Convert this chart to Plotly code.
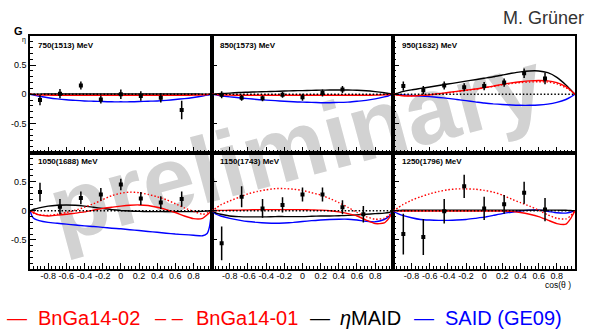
import plotly.graph_objects as go
from plotly.subplots import make_subplots

# ---------------- data ----------------
PANEL_TITLES = ["750(1513) MeV", "850(1573) MeV", "950(1632) MeV",
                "1050(1688) MeV", "1150(1743) MeV", "1250(1796) MeV"]

X_TICKS = [-0.8, -0.6, -0.4, -0.2, 0, 0.2, 0.4, 0.6, 0.8]
X_TICK_TEXT = ["-0.8", "-0.6", "-0.4", "-0.2", "0", "0.2", "0.4", "0.6", "0.8"]
Y_TICKS = [-0.5, 0, 0.5]
Y_TICK_TEXT = ["-0.5", "0", "0.5"]
REF_LEVEL = 0.0

COS_GRID = [-1, -0.975, -0.95, -0.9, -0.8, -0.7, -0.6, -0.5, -0.4, -0.3, -0.2, -0.1, 0,
            0.1, 0.2, 0.3, 0.4, 0.5, 0.6, 0.7, 0.8, 0.9, 0.95, 0.975, 1]

BIN_CENTERS = [-0.89, -0.67, -0.44, -0.22, 0.0, 0.22, 0.44, 0.67]

G_750 = [-0.10, 0.01, 0.15, -0.09, 0.0, -0.03, -0.06, -0.27]
ERR_750 = [0.09, 0.08, 0.07, 0.07, 0.08, 0.08, 0.08, 0.16]
G_850 = [-0.01, -0.06, -0.07, -0.01, -0.05, 0.02, 0.08]
ERR_850 = [0.06, 0.05, 0.05, 0.05, 0.06, 0.06, 0.06]
G_950 = [0.14, 0.07, 0.15, 0.12, 0.14, 0.20, 0.36, 0.27]
ERR_950 = [0.08, 0.07, 0.07, 0.07, 0.07, 0.07, 0.08, 0.10]
G_1050 = [0.32, 0.07, 0.22, 0.28, 0.45, 0.21, 0.14, 0.20]
ERR_1050 = [0.16, 0.13, 0.11, 0.11, 0.10, 0.11, 0.11, 0.13]
G_1150 = [-0.56, 0.24, 0.04, 0.10, 0.28, 0.28, 0.06, -0.06]
ERR_1150 = [0.29, 0.18, 0.16, 0.13, 0.12, 0.12, 0.12, 0.14]
G_1250 = [-0.40, -0.45, -0.01, 0.42, 0.04, 0.11, 0.31, 0.02]
ERR_1250 = [0.35, 0.31, 0.21, 0.20, 0.20, 0.16, 0.19, 0.20]

# model curves on COS_GRID
BNGA02_750 = [0, -0.003, -0.006, -0.01, -0.015, -0.018, -0.02, -0.02, -0.02, -0.02, -0.02, -0.02, -0.02,
              -0.02, -0.02, -0.02, -0.02, -0.02, -0.02, -0.018, -0.015, -0.01, -0.006, -0.003, 0]
BNGA01_750 = [0, -0.002, -0.004, -0.006, -0.008, -0.01, -0.01, -0.01, -0.01, -0.01, -0.01, -0.01, -0.01,
              -0.01, -0.01, -0.01, -0.01, -0.01, -0.01, -0.01, -0.008, -0.006, -0.004, -0.002, 0]
MAID_750 = [0, 0.001, 0.002, 0.003, 0.004, 0.005, 0.005, 0.005, 0.005, 0.005, 0.005, 0.005, 0.005,
            0.005, 0.005, 0.005, 0.005, 0.005, 0.005, 0.005, 0.004, 0.003, 0.002, 0.001, 0]
SAID_750 = [0, -0.01, -0.02, -0.035, -0.06, -0.08, -0.095, -0.105, -0.115, -0.12, -0.125, -0.13, -0.13,
            -0.13, -0.125, -0.12, -0.115, -0.105, -0.09, -0.075, -0.055, -0.03, -0.015, -0.008, 0]

BNGA02_850 = [0, -0.003, -0.006, -0.01, -0.015, -0.018, -0.018, -0.018, -0.018, -0.018, -0.018, -0.018, -0.018,
              -0.018, -0.018, -0.018, -0.018, -0.018, -0.018, -0.018, -0.015, -0.01, -0.006, -0.003, 0]
BNGA01_850 = [0, -0.002, -0.003, -0.005, -0.007, -0.008, -0.008, -0.008, -0.008, -0.008, -0.008, -0.008, -0.008,
              -0.008, -0.008, -0.008, -0.008, -0.008, -0.008, -0.008, -0.007, -0.005, -0.003, -0.002, 0]
MAID_850 = [0, 0.003, 0.005, 0.01, 0.02, 0.03, 0.035, 0.04, 0.045, 0.05, 0.055, 0.06, 0.063,
            0.067, 0.07, 0.072, 0.073, 0.072, 0.068, 0.06, 0.045, 0.025, 0.012, 0.006, 0]
SAID_850 = [0, -0.005, -0.01, -0.025, -0.045, -0.06, -0.075, -0.09, -0.1, -0.11, -0.12, -0.13, -0.135,
            -0.14, -0.145, -0.145, -0.14, -0.135, -0.12, -0.105, -0.08, -0.045, -0.025, -0.012, 0]

BNGA02_950 = [0, -0.008, -0.015, -0.025, -0.03, -0.02, -0.01, 0.01, 0.03, 0.05, 0.07, 0.09, 0.115,
              0.14, 0.17, 0.195, 0.215, 0.23, 0.235, 0.23, 0.2, 0.13, 0.07, 0.035, 0]
BNGA01_950 = [0, -0.005, -0.01, -0.02, -0.025, -0.02, -0.01, 0.005, 0.025, 0.045, 0.065, 0.085, 0.11,
              0.135, 0.16, 0.185, 0.2, 0.21, 0.215, 0.21, 0.18, 0.11, 0.06, 0.03, 0]
MAID_950 = [0, 0.01, 0.02, 0.045, 0.075, 0.1, 0.125, 0.15, 0.175, 0.2, 0.225, 0.25, 0.275,
            0.3, 0.33, 0.36, 0.385, 0.4, 0.4, 0.37, 0.29, 0.16, 0.08, 0.04, 0]
SAID_950 = [0, -0.003, -0.005, -0.01, -0.02, -0.03, -0.04, -0.055, -0.07, -0.09, -0.11, -0.13, -0.15,
            -0.165, -0.175, -0.185, -0.19, -0.19, -0.185, -0.17, -0.14, -0.09, -0.05, -0.025, 0]

BNGA02_1050 = [0, -0.02, -0.04, -0.07, -0.09, -0.075, -0.06, -0.04, -0.02, 0.01, 0.04, 0.06, 0.08,
               0.095, 0.1, 0.09, 0.06, 0.02, -0.03, -0.09, -0.135, -0.13, -0.07, -0.035, 0]
BNGA01_1050 = [0, -0.025, -0.05, -0.07, -0.08, -0.06, -0.03, 0.01, 0.06, 0.12, 0.19, 0.26, 0.3,
               0.32, 0.31, 0.28, 0.24, 0.19, 0.12, 0.05, -0.01, -0.06, -0.04, -0.02, 0]
MAID_1050 = [0, 0.015, 0.03, 0.05, 0.08, 0.095, 0.1, 0.095, 0.08, 0.06, 0.04, 0.02, 0.005,
             -0.005, -0.01, -0.015, -0.015, -0.015, -0.015, -0.015, -0.015, -0.01, -0.005, -0.003, 0]
SAID_1050 = [0, -0.1, -0.14, -0.17, -0.2, -0.215, -0.23, -0.245, -0.26, -0.27, -0.285, -0.3, -0.31,
             -0.325, -0.34, -0.355, -0.37, -0.385, -0.4, -0.41, -0.42, -0.43, -0.39, -0.28, 0]

BNGA02_1150 = [0, 0.002, 0.004, 0.006, 0.008, 0.01, 0.015, 0.02, 0.02, 0.02, 0.02, 0.02, 0.02,
               0.015, 0.01, 0.0, -0.02, -0.05, -0.09, -0.16, -0.22, -0.21, -0.13, -0.07, 0]
BNGA01_1150 = [0, 0.02, 0.05, 0.1, 0.17, 0.23, 0.29, 0.33, 0.36, 0.38, 0.38, 0.37, 0.35,
               0.31, 0.27, 0.21, 0.14, 0.06, -0.03, -0.1, -0.145, -0.13, -0.08, -0.04, 0]
MAID_1150 = [0, -0.02, -0.04, -0.06, -0.09, -0.1, -0.105, -0.105, -0.105, -0.1, -0.1, -0.1, -0.1,
             -0.095, -0.09, -0.09, -0.085, -0.08, -0.07, -0.06, -0.05, -0.04, -0.03, -0.015, 0]
SAID_1150 = [0, -0.03, -0.06, -0.09, -0.13, -0.16, -0.185, -0.2, -0.21, -0.215, -0.21, -0.2, -0.185,
             -0.17, -0.16, -0.15, -0.145, -0.145, -0.16, -0.18, -0.19, -0.15, -0.1, -0.05, 0]

BNGA02_1250 = [0, -0.002, -0.003, -0.005, -0.005, -0.005, -0.005, -0.005, -0.005, -0.005, -0.005, -0.005, -0.005,
               -0.005, -0.005, -0.01, -0.03, -0.06, -0.1, -0.16, -0.22, -0.23, -0.14, -0.07, 0]
BNGA01_1250 = [0, 0.02, 0.05, 0.1, 0.18, 0.24, 0.29, 0.33, 0.36, 0.375, 0.375, 0.37, 0.35,
               0.32, 0.27, 0.2, 0.14, 0.08, 0.01, -0.07, -0.13, -0.14, -0.09, -0.045, 0]
MAID_1250 = [0, 0.003, 0.005, 0.008, 0.01, 0.01, 0.01, 0.01, 0.01, 0.01, 0.01, 0.01, 0.01,
             0.01, 0.01, 0.01, 0.01, 0.01, 0.01, 0.01, 0.01, 0.008, 0.005, 0.003, 0]
SAID_1250 = [0, -0.03, -0.05, -0.08, -0.12, -0.15, -0.16, -0.165, -0.165, -0.16, -0.15, -0.13, -0.11,
             -0.08, -0.05, -0.025, -0.005, 0.01, 0.01, -0.01, -0.035, -0.04, -0.025, -0.012, 0]

PANELS = [
    (G_750, ERR_750, BNGA02_750, BNGA01_750, MAID_750, SAID_750),
    (G_850, ERR_850, BNGA02_850, BNGA01_850, MAID_850, SAID_850),
    (G_950, ERR_950, BNGA02_950, BNGA01_950, MAID_950, SAID_950),
    (G_1050, ERR_1050, BNGA02_1050, BNGA01_1050, MAID_1050, SAID_1050),
    (G_1150, ERR_1150, BNGA02_1150, BNGA01_1150, MAID_1150, SAID_1150),
    (G_1250, ERR_1250, BNGA02_1250, BNGA01_1250, MAID_1250, SAID_1250),
]

# ---------------- figure ----------------
W, H = 590, 330
ML, MR, MT, MB = 30, 15, 36, 61
PW, PH = W - ML - MR, H - MT - MB
FONT = "Liberation Sans"
FINE_DOT = "1.5px,2px"


def px(x):
    return (x - ML) / PW


def py(y):
    return 1 - (y - MT) / PH


fig = make_subplots(rows=2, cols=3, horizontal_spacing=0, vertical_spacing=0)

for i, (g, err, b2, b1, maid, said) in enumerate(PANELS):
    r, c = i // 3 + 1, i % 3 + 1
    fig.add_trace(go.Scatter(x=COS_GRID, y=said, mode="lines", line=dict(color="#0000ff", width=1.4, shape="spline", smoothing=0.6), showlegend=False), row=r, col=c)
    fig.add_trace(go.Scatter(x=COS_GRID, y=maid, mode="lines", line=dict(color="#000000", width=1.4, shape="spline", smoothing=0.6), showlegend=False), row=r, col=c)
    fig.add_trace(go.Scatter(x=COS_GRID, y=b1, mode="lines", line=dict(color="#ff0000", width=1.4, dash=FINE_DOT, shape="spline", smoothing=0.6), showlegend=False), row=r, col=c)
    fig.add_trace(go.Scatter(x=COS_GRID, y=b2, mode="lines", line=dict(color="#ff0000", width=1.4, shape="spline", smoothing=0.6), showlegend=False), row=r, col=c)
    fig.add_trace(go.Scatter(x=BIN_CENTERS[:len(g)], y=g, mode="markers",
                             marker=dict(symbol="square", size=4, color="black"),
                             error_y=dict(type="data", array=err, color="black", thickness=1.5, width=0),
                             showlegend=False), row=r, col=c)
    n = "" if i == 0 else str(i + 1)
    fig.add_shape(type="line", xref=f"x{n} domain", yref=f"y{n}", x0=0, x1=1, y0=REF_LEVEL, y1=REF_LEVEL,
                  line=dict(color="black", width=1.4, dash=FINE_DOT))
    fig.add_annotation(text=PANEL_TITLES[i], xref=f"x{n} domain", yref=f"y{n} domain", x=0.035, y=0.92,
                       xanchor="left", yanchor="middle", showarrow=False,
                       font=dict(family=FONT, size=8, color="black", weight="bold"))

axis_common = dict(showline=True, mirror=True, linecolor="black", linewidth=1.5,
                   ticks="inside", ticklen=6, tickwidth=1, tickcolor="black",
                   showgrid=False, zeroline=False, range=[-1, 1],
                   tickfont=dict(family=FONT, size=9, color="black"))
for i in range(6):
    r, c = i // 3 + 1, i % 3 + 1
    fig.update_xaxes(**axis_common, tickvals=X_TICKS, ticktext=X_TICK_TEXT, showticklabels=(r == 2),
                     ticklabelstandoff=-3,
                     minor=dict(ticks="inside", ticklen=3, dtick=0.04, tick0=-1, tickcolor="black"),
                     row=r, col=c)
    fig.update_yaxes(**axis_common, tickvals=Y_TICKS, ticktext=Y_TICK_TEXT, showticklabels=(c == 1),
                     minor=dict(ticks="inside", ticklen=3, dtick=0.1, tick0=-1, tickcolor="black"),
                     row=r, col=c)

# watermark behind the data
fig.add_shape(type="rect", xref="paper", yref="paper", x0=px(194), x1=px(394), y0=py(157), y1=py(117),
              line=dict(width=0), fillcolor="rgba(0,0,0,0)", layer="below",
              label=dict(text="preliminary", textangle=-15, textposition="middle center",
                         font=dict(family=FONT, size=94, color="rgb(210,210,210)", weight="bold")))

annos = [
    dict(text="G", x=px(12), y=py(31), xanchor="left", font=dict(family=FONT, size=11, color="black", weight="bold")),
    dict(text="η", x=px(20), y=py(40), xanchor="left", font=dict(family=FONT, size=7, color="black")),
    dict(text="cos(θ )", x=px(558), y=py(285), xanchor="center", font=dict(family=FONT, size=8.5, color="black")),
    dict(text="M. Grüner", x=px(586), y=py(18), xanchor="right", font=dict(family=FONT, size=18, color="#333333")),
    dict(text="—", x=px(5), y=py(318), xanchor="left", font=dict(family=FONT, size=20, color="#ff0000")),
    dict(text="BnGa14-02", x=px(36), y=py(318), xanchor="left", font=dict(family=FONT, size=20, color="#ff0000")),
    dict(text="– –", x=px(153), y=py(318), xanchor="left", font=dict(family=FONT, size=20, color="#ff0000")),
    dict(text="BnGa14-01", x=px(194), y=py(318), xanchor="left", font=dict(family=FONT, size=20, color="#ff0000")),
    dict(text="—", x=px(308), y=py(318), xanchor="left", font=dict(family=FONT, size=20, color="black")),
    dict(text="<i>η</i>MAID", x=px(338), y=py(318), xanchor="left", font=dict(family=FONT, size=20, color="black")),
    dict(text="—", x=px(412), y=py(318), xanchor="left", font=dict(family=FONT, size=20, color="#0000ff")),
    dict(text="SAID (GE09)", x=px(443), y=py(318), xanchor="left", font=dict(family=FONT, size=20, color="#0000ff")),
]
for a in annos:
    fig.add_annotation(xref="paper", yref="paper", yanchor="middle", showarrow=False, **a)

fig.update_layout(width=W, height=H, margin=dict(l=ML, r=MR, t=MT, b=MB),
                  paper_bgcolor="white", plot_bgcolor="rgba(0,0,0,0)", showlegend=False)

fig.write_html("out.html", config={"displayModeBar": False},
               post_script="document.body.style.margin='0';")
